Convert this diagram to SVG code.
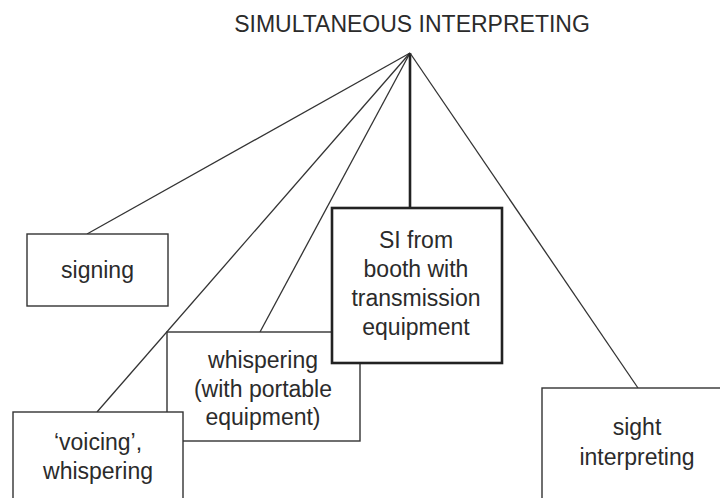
<svg xmlns="http://www.w3.org/2000/svg" width="720" height="498" viewBox="0 0 720 498">
<style>
text{font-family:"Liberation Sans",Arial,sans-serif;font-size:23px;fill:#2b2b2b;text-anchor:middle}
.box{fill:#fff;stroke:#333;stroke-width:1.4}
.thick{fill:#fff;stroke:#222;stroke-width:2.6}
.ln{stroke:#333;stroke-width:1.3;fill:none}
</style>
<rect width="720" height="498" fill="#fff"/>
<g id="title"><text x="412" y="32">SIMULTANEOUS INTERPRETING</text></g>
<g id="connectors">
<line class="ln" x1="410" y1="53" x2="87" y2="234"/>
<line class="ln" x1="410" y1="53" x2="97" y2="412"/>
<line class="ln" x1="410" y1="53" x2="260" y2="332"/>
<line class="ln" x1="410" y1="53" x2="410" y2="208" style="stroke-width:2.6;stroke:#222"/>
<line class="ln" x1="410" y1="53" x2="638" y2="388"/>
</g>
<g id="whispering">
<rect class="box" x="167" y="332" width="193" height="109"/>
<text x="263" y="368">whispering</text>
<text x="263" y="397">(with portable</text>
<text x="263" y="425">equipment)</text>
</g>
<g id="si-booth">
<rect class="thick" x="332" y="208" width="170" height="155"/>
<text x="416" y="248">SI from</text>
<text x="416" y="277">booth with</text>
<text x="416" y="306">transmission</text>
<text x="416" y="335">equipment</text>
</g>
<g id="signing">
<rect class="box" x="27" y="234" width="141" height="72"/>
<text x="97.5" y="278">signing</text>
</g>
<g id="voicing">
<rect class="box" x="13" y="412" width="170" height="100"/>
<text x="98" y="450">‘voicing’,</text>
<text x="98" y="479">whispering</text>
</g>
<g id="sight">
<rect class="box" x="542" y="388" width="190" height="120"/>
<text x="637" y="435">sight</text>
<text x="637" y="465">interpreting</text>
</g>
</svg>
